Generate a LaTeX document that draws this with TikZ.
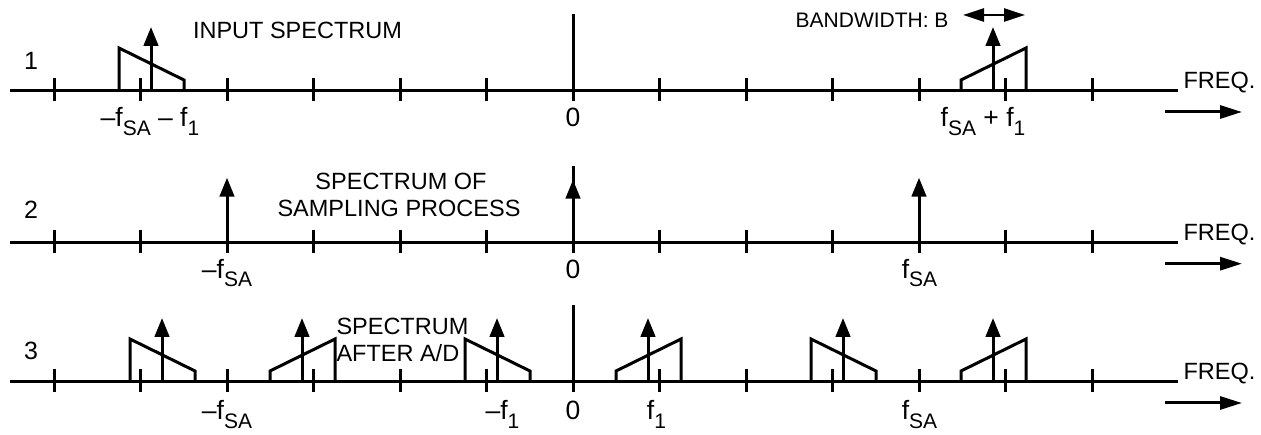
\documentclass[tikz,border=0pt]{standalone}
\usepackage{fontspec}
\setmainfont{Liberation Sans}
\usetikzlibrary{arrows.meta}
\newcommand\sbs[1]{\raisebox{-0.32em}{\fontsize{21}{21}\selectfont #1}}
\newcommand\baseaxis[1]{%
  \draw (10,0) -- (1178,0);
  \foreach \k in {-6,...,-1,1,2,...,6} \draw ({573+86.5*\k},-13) -- ({573+86.5*\k},10);
  \draw (573,10) -- (573,-77);
  \node[ttl, anchor=base west] (freq#1) at (1182,-2) {FREQ.};
  \coordinate (fa#1) at (1165,21);
  \coordinate (fb#1) at (1242,21);
  \draw[bigarrow] (fa#1) -- (fb#1);
}
\newcommand\rising[1]{%
  \draw ({#1-32},0) -- ({#1-32},-11) -- ({#1+33},-43) -- ({#1+33},0);
  \draw[spike] (#1,0) -- (#1,-64);
}
\newcommand\falling[1]{%
  \draw ({#1-32},0) -- ({#1-32},-43) -- ({#1+33},-11) -- ({#1+33},0);
  \draw[spike] (#1,0) -- (#1,-64);
}
\begin{document}
\begin{tikzpicture}[x=1pt,y=-1pt,line width=3pt,
  spike/.style={-{Triangle[length=19pt,width=14.5pt]}},
  bigarrow/.style={-{Triangle[length=22pt,width=13pt]}},
  bwarrow/.style={line width=2.4pt,{Triangle[length=21pt,width=13pt]}-{Triangle[length=21pt,width=13pt]}},
  lbl/.style={font=\fontsize{26.5}{26.5}\selectfont, anchor=base, inner sep=0pt},
  num/.style={font=\fontsize{25}{25}\selectfont, anchor=base, inner sep=0pt},
  ttl/.style={font=\fontsize{23.5}{23.5}\selectfont, anchor=base, inner sep=0pt}]
\useasboundingbox (0,0) rectangle (1261,435);

% ---------- row 1 ----------
\begin{scope}[shift={(0,91)}]
  \baseaxis{1}
  \falling{151}
  \rising{993}
  \node[num] (n1) at (31,-21) {1};
  \node[lbl] (l1a) at (150,36) {–f\sbs{SA} – f\sbs{1}};
  \node[lbl] (l1b) at (573,36) {0};
  \node[lbl] (l1c) at (983,36) {f\sbs{SA} + f\sbs{1}};
  \node[ttl] (t1) at (297.5,-52) {INPUT SPECTRUM};
  \node[ttl, font=\fontsize{21}{21}\selectfont, anchor=base east] (bw) at (950,-63) {BANDWIDTH: B};
  \coordinate (bwa) at (963,-76);
  \coordinate (bwb) at (1025,-76);
  \draw[bwarrow] (bwa) -- (bwb);
\end{scope}

% ---------- row 2 ----------
\begin{scope}[shift={(0,242.7)}]
  \baseaxis{2}
  \draw[spike] (227,0) -- (227,-65);
  \draw[spike] (573,0) -- (573,-63);
  \draw[spike] (919,0) -- (919,-65);
  \node[num] (n2) at (31,-24) {2};
  \node[lbl] (l2a) at (227,35.5) {–f\sbs{SA}};
  \node[lbl] (l2b) at (573,35.5) {0};
  \node[lbl] (l2c) at (919.5,35.5) {f\sbs{SA}};
  \node[ttl] (t2a) at (401,-53) {SPECTRUM OF};
  \node[ttl] (t2b) at (399,-26) {SAMPLING PROCESS};
\end{scope}

% ---------- row 3 ----------
\begin{scope}[shift={(0,382)}]
  \baseaxis{3}
  \falling{162}
  \rising{302}
  \falling{497}
  \rising{648}
  \falling{843}
  \rising{993}
  \node[num] (n3) at (31,-22) {3};
  \node[lbl] (l3a) at (227,38) {–f\sbs{SA}};
  \node[lbl] (l3b) at (502.5,38) {–f\sbs{1}};
  \node[lbl] (l3c) at (573,38) {0};
  \node[lbl] (l3d) at (656.5,38) {f\sbs{1}};
  \node[lbl] (l3e) at (919.5,38) {f\sbs{SA}};
  \node[ttl, anchor=base west] (t3a) at (335,-47) {SPECTRUM};
  \node[ttl, anchor=base west] (t3b) at (335,-20) {AFTER A/D};
\end{scope}
\end{tikzpicture}
\end{document}
